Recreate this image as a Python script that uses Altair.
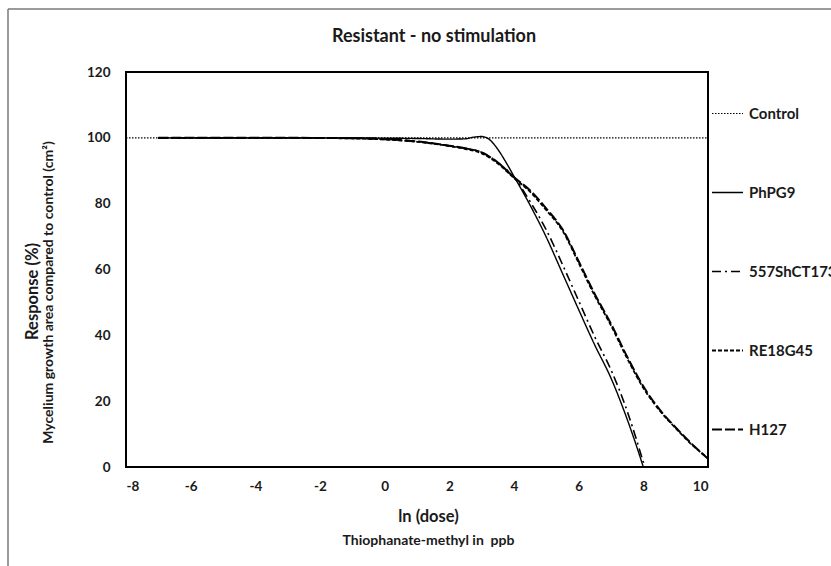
import altair as alt
import pandas as pd

chart_title = "Resistant - no stimulation"
series_names = ["Control", "PhPG9", "557ShCT173", "RE18G45", "H127"]

control_x = [-8, 10]
control_y = [100, 100]

phpg9_x = [-7, -5, -3, -1, 0, 1, 2, 2.5, 2.75, 3, 3.25, 3.5, 3.75, 4, 4.5, 5, 5.5, 6, 6.5, 7, 7.5, 7.75, 8]
phpg9_y = [100, 100, 100, 100, 99.9, 99.8, 99.6, 99.7, 100.2, 100.4, 99.4, 96.5, 92.6, 88.3, 79.5, 69.8, 58.8, 47.8, 37, 27, 14.5, 7.5, 0]

sh_x = [-7, -5, -3, -1, 0, 1, 2, 2.5, 3, 3.5, 4, 4.5, 5, 5.5, 6, 6.5, 7, 7.5, 7.75, 8, 8.05]
sh_y = [100, 100, 100, 99.9, 99.6, 98.9, 97.6, 96.8, 95.6, 92.5, 88, 80.6, 72, 61.5, 50.5, 39.5, 29.5, 17, 9.5, 1.5, 0]

re_x = [-7, -5, -3, -1, 0, 1, 2, 2.5, 3, 3.5, 4, 4.5, 5, 5.5, 6, 6.5, 7, 7.5, 8, 8.5, 9, 9.5, 10]
re_y = [100, 100, 100, 99.8, 99.5, 98.8, 97.5, 96.6, 95.3, 92.2, 87.8, 83.6, 78, 71.8, 62, 52, 43, 33, 24, 17.2, 11.8, 6.8, 2.7]

h_x = [-7, -5, -3, -1, 0, 1, 2, 2.5, 3, 3.5, 4, 4.5, 5, 5.5, 6, 6.5, 7, 7.5, 8, 8.5, 9, 9.5, 10]
h_y = [100, 100, 100, 99.9, 99.6, 98.9, 97.6, 96.8, 95.6, 92.5, 88, 84, 78.5, 72.2, 62.5, 52.5, 43.5, 33.5, 24.5, 17.5, 12, 7, 2.5]

x_ticks = [-8, -6, -4, -2, 0, 2, 4, 6, 8, 10]
y_ticks = [0, 20, 40, 60, 80, 100, 120]

rows = []
for name, xs, ys in [
    ("Control", control_x, control_y),
    ("PhPG9", phpg9_x, phpg9_y),
    ("557ShCT173", sh_x, sh_y),
    ("RE18G45", re_x, re_y),
    ("H127", h_x, h_y),
]:
    for xv, yv in zip(xs, ys):
        rows.append({"series": name, "dose": xv, "response": yv})
df = pd.DataFrame(rows)

FONT = "Lato"
INK = "#1a1a1a"
xscale = alt.Scale(domain=[-8, 10], nice=False, zero=False)
yscale = alt.Scale(domain=[0, 120], nice=False)

ax_x1 = alt.Axis(values=x_ticks, labelExpr="datum.value + ''", title="ln (dose)",
                 titleFontSize=16.5, titleX=302, titleY=49, titleBaseline="middle",
                 titleAlign="center", labelPadding=12, orient="bottom")
ax_x2 = alt.Axis(values=x_ticks, labels=False, title="Thiophanate-methyl in\u00a0 ppb",
                 titleFontSize=14, titleX=302, titleY=73, titleBaseline="middle",
                 titleAlign="center", orient="bottom")
ax_y1 = alt.Axis(values=y_ticks, title="Response (%)", titleFontSize=16.5,
                 titleX=-94, titleY=219, titleBaseline="middle", titleAlign="center",
                 labelPadding=16, orient="left")
ax_y2 = alt.Axis(values=y_ticks, labels=False,
                 title="Mycelium growth area compared to control (cm²)",
                 titleFontSize=14, titleX=-78, titleY=220, titleBaseline="middle",
                 titleAlign="center", orient="left")

legend = alt.Legend(orient="none", legendX=585, legendY=25, symbolType="stroke",
                    symbolSize=961, symbolStrokeColor="black", labelFont=FONT,
                    labelFontSize=15, labelFontWeight="bold", labelColor=INK,
                    labelOffset=5, rowPadding=54, padding=0)

lines = alt.Chart(df).mark_line(interpolate="monotone", color="black").encode(
    x=alt.X("dose:Q", scale=xscale, axis=ax_x1),
    y=alt.Y("response:Q", scale=yscale, axis=ax_y1),
    strokeDash=alt.StrokeDash("series:N", title=None, legend=legend,
                              scale=alt.Scale(domain=series_names,
                                              range=[[1.5, 1.5], [1, 0], [9, 4, 2, 4], [4, 2], [10, 3]])),
    strokeWidth=alt.StrokeWidth("series:N", title=None, legend=legend,
                                scale=alt.Scale(domain=series_names,
                                                range=[1.2, 2, 2, 2, 2])),
)

ghost = alt.Chart(df).mark_point(opacity=0).encode(
    x=alt.X("dose:Q", scale=xscale, axis=ax_x2),
    y=alt.Y("response:Q", scale=yscale, axis=ax_y2),
)

one = pd.DataFrame({"t": [chart_title]})
title_mark = alt.Chart(one).mark_text(font=FONT, fontSize=18, fontWeight="bold",
                                      color=INK, align="center", baseline="middle").encode(
    text="t:N", x=alt.value(308), y=alt.value(-35))

frame_left = alt.Chart(one).mark_rule(color="#7a7a7a", strokeWidth=1.5).encode(
    x=alt.value(-118), y=alt.value(-63), y2=alt.value(600))
frame_top = alt.Chart(one).mark_rule(color="#7a7a7a", strokeWidth=1.5).encode(
    x=alt.value(-118), x2=alt.value(800), y=alt.value(-63))

chart = alt.layer(lines, ghost, title_mark, frame_left, frame_top).resolve_scale(
    x="independent", y="independent"
).properties(
    width=582, height=395,
    autosize=alt.AutoSizeParams(type="none"),
    padding={"left": 126, "top": 72, "right": 123, "bottom": 99},
    background="white",
).configure_view(stroke="black", strokeWidth=2).configure_axis(
    domain=False, ticks=False, grid=False, labelFont=FONT, labelFontSize=13.5,
    labelFontWeight="bold", labelColor=INK, titleFont=FONT,
    titleFontWeight="bold", titleColor=INK
)

chart.save("out.html", embed_options={"renderer": "svg", "actions": False})
